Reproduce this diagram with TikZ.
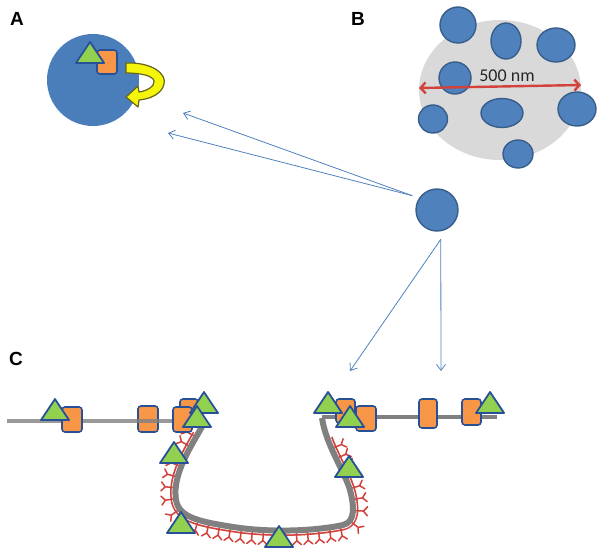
\documentclass[tikz,border=0pt]{standalone}
\usepackage{fontspec}
\setmainfont{Liberation Sans}
\newfontfamily\calfont{Carlito}
\usetikzlibrary{arrows.meta,decorations.markings}
\definecolor{blueA}{RGB}{74,126,187}
\definecolor{blueF}{RGB}{79,129,189}
\definecolor{blueE}{RGB}{56,93,138}
\definecolor{darkE}{RGB}{40,80,150}
\definecolor{orangeF}{RGB}{247,150,70}
\definecolor{greenF}{RGB}{146,208,80}
\definecolor{redL}{RGB}{210,65,60}
\definecolor{grayB}{RGB}{217,217,217}
\definecolor{grayL}{RGB}{128,128,128}
\definecolor{yel}{RGB}{245,245,10}
\definecolor{olv}{RGB}{100,100,30}
\newcommand\gtri[2]{\draw[tri] (#1-14,#2) -- (#1,#2-21) -- (#1+14,#2) -- cycle;}
\newcommand\osq[4]{\draw[sq] (#1,#2) rectangle (#3,#4);}
\begin{document}
\begin{tikzpicture}[x=1pt,y=-1pt,
  tri/.style={fill=greenF,draw=darkE,line width=1.8pt,line join=round},
  sq/.style={fill=orangeF,draw=darkE,line width=1.6pt,rounded corners=3pt},
  bell/.style={fill=blueF,draw=blueE,line width=1.4pt},
  conn/.style={draw=blueF,line width=0.8pt,-{Straight Barb[length=6pt,width=9pt]}},
  lab/.style={font=\bfseries\fontsize{19}{19}\selectfont,inner sep=0pt},
  strand/.style={draw=grayL,line width=4pt}]
\useasboundingbox (0,0) rectangle (602,559);

% labels
\node[lab] (labA) at (17,19) {A};
\node[lab] (labB) at (358,19) {B};
\node[lab] (labC) at (16,359) {C};

% ---------- panel A ----------
\fill[blueA] (93,80) circle (46pt);
\osq{97}{50}{117}{74}
\gtri{90}{63}
\draw[fill=yel,draw=olv,line width=1.2pt,line join=round]
  (126,63) .. controls (152,62) and (167,74) .. (164,84)
  .. controls (162,94) and (150,99) .. (139,100)
  -- (138,107) -- (126,97) -- (138,86) -- (139,92)
  .. controls (147,91) and (155,86) .. (154,81)
  .. controls (153,76) and (142,73) .. (126,73) -- cycle;

% ---------- panel B ----------
\fill[grayB] (500,90) ellipse [x radius=81pt, y radius=70pt];
\draw[bell] (458,25) ellipse [x radius=18pt, y radius=18pt];
\draw[bell] (506,41) ellipse [x radius=15pt, y radius=18pt];
\draw[bell] (556,45) ellipse [x radius=19pt, y radius=17pt];
\draw[bell] (455,78) ellipse [x radius=16pt, y radius=16pt];
\draw[bell] (433,119) ellipse [x radius=14.5pt, y radius=14pt];
\draw[bell] (502,113) ellipse [x radius=21pt, y radius=14.5pt];
\draw[bell] (577,109) ellipse [x radius=19pt, y radius=17pt];
\draw[bell] (518,154) ellipse [x radius=15pt, y radius=14pt];
\coordinate (bl) at (419,88);
\coordinate (br) at (581,85);
\draw[redL,line width=2.4pt,{Straight Barb[length=5pt,width=11pt]}-{Straight Barb[length=5pt,width=11pt]}] (bl) -- (br);
\node[font=\calfont\fontsize{18}{18}\selectfont,text=black!85,inner sep=0pt] (nm) at (507,76) {500 nm};

% ---------- hub and connectors ----------
\node[circle,minimum size=42pt,inner sep=0pt,fill=blueF,draw=blueE,line width=1.4pt] (hub) at (437,210) {};
\coordinate (a1) at (183,113);
\coordinate (a2) at (168,133);
\coordinate (c1) at (350,371);
\coordinate (c2) at (441,371);
\coordinate (hs) at ([xshift=-6pt,yshift=3.5pt]hub.150);
\coordinate (hf) at ([yshift=-8pt]hub.-80);
\draw[conn] (hs) -- (a1);
\draw[conn] (hs) -- (a2);
\draw[conn] (hf) -- (c1);
\draw[conn] (hf) -- (c2);

% ---------- panel C ----------
% U-shaped chain with red glycans
\path[postaction={decorate,decoration={markings,
      mark=between positions 12pt and -22pt step 1.5pt with {\draw[redL,line width=1.5pt] (-1pt,-4.6pt)--(1pt,-4.6pt);}}},
      postaction={decorate,decoration={markings,
      mark=between positions 14pt and -22pt step 11pt with {\draw[redL,line width=1.5pt,line cap=round] (0pt,-3pt)--(0pt,-11pt) (0pt,-10.5pt)--(-4.5pt,-14.5pt) (0pt,-10.5pt)--(4.5pt,-14.5pt);}}}]
  (203,425) .. controls (190,448) and (172,475) .. (176,500)
  .. controls (179,518) and (200,522) .. (240,528)
  .. controls (280,533) and (320,530) .. (343,525)
  .. controls (356,522) and (354,505) .. (350,490)
  .. controls (344,470) and (326,445) .. (322,418);
\draw[grayL,line width=6pt]
  (203,425) .. controls (190,448) and (172,475) .. (176,500)
  .. controls (179,518) and (200,522) .. (240,528)
  .. controls (280,533) and (320,530) .. (343,525)
  .. controls (356,522) and (354,505) .. (350,490)
  .. controls (344,470) and (326,445) .. (322,418);

% left strand
\osq{138}{406}{158}{432}
\coordinate (l0) at (7,421);
\coordinate (l1) at (200,421);
\draw[strand,draw opacity=0.8] (l0) -- (l1);
\osq{62}{407}{82}{432}
\gtri{55}{420}
\osq{180}{399}{198}{424}
\osq{173}{407}{192}{432}
\gtri{204}{413}
\gtri{197}{427}

% right strand
\coordinate (r0) at (322,417);
\coordinate (r1) at (497,417);
\draw[strand] (r0) -- (r1);
\osq{336}{399}{355}{423}
\gtri{328}{413}
\osq{356}{406}{376}{431}
\gtri{350}{427}
\osq{419}{399}{437}{428}
\osq{462}{399}{481}{425}
\gtri{490}{413}

% triangles on curved chain
\gtri{174}{463}
\gtri{181}{533}
\gtri{279}{547}
\gtri{349}{477}
\end{tikzpicture}
\end{document}
